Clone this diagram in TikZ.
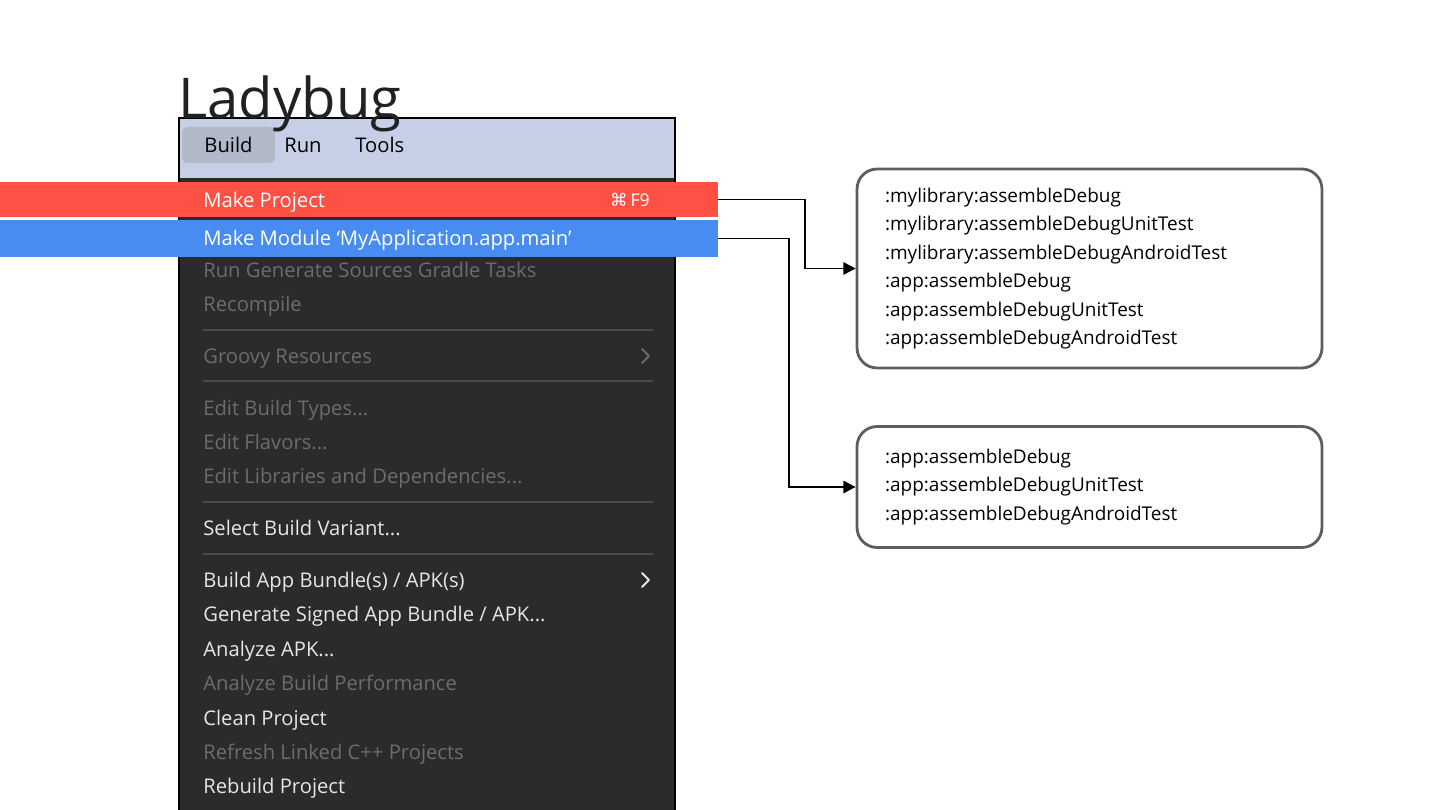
\documentclass[tikz,border=0pt]{standalone}
\usepackage{fontspec}
\setmainfont{Open Sans}
\newfontfamily\keyfont{DejaVu Sans}
\usetikzlibrary{arrows.meta}
\usetikzlibrary{positioning}

\definecolor{makered}{HTML}{FF5045}
\definecolor{moduleblue}{HTML}{498CF1}
\definecolor{menubar}{HTML}{C6CFE5}
\definecolor{menuhl}{HTML}{B1B8C7}
\definecolor{menudark}{HTML}{2B2B2E}
\definecolor{menusep}{HTML}{4B4B4E}
\definecolor{itemoff}{HTML}{6C6C6F}
\definecolor{itemon}{HTML}{E6E6E7}
\definecolor{boxgray}{HTML}{5E5E5E}
\definecolor{titleink}{HTML}{202124}

\tikzset{
	item/.style={anchor=west, inner sep=0pt, text height=8.2pt, text depth=0pt, font=\fontsize{11.5}{14}\selectfont},
	itemoff/.style={item, text=itemoff},
	itemon/.style={item, text=itemon},
	sepline/.style={draw=menusep, line width=1.2pt},
	chevron/.style={line width=1.1pt, line cap=round, line join=round},
	taskbox/.style={draw=boxgray, line width=1.6pt, rounded corners=0.4cm, minimum width=9.3cm,
		text width=8.18cm, inner xsep=0.56cm, align=left, font=\fontsize{10.8}{16.2}\selectfont},
	link/.style={draw, line width=1.1pt, -{Triangle[length=7pt, width=7pt]}}
}

\begin{document}
\begin{tikzpicture}[x=0.02cm, y=-0.02cm]
			\useasboundingbox (0,0) rectangle (1440,810);
			\fill [menubar] (179,118) rectangle (675,178);
			\fill [menudark] (179,178) rectangle (675,810);
			\draw [line width=0.85pt] (179,812) -- (179,118) -- (675,118) -- (675,812);
			\node [fill=menuhl, rounded corners=3pt, minimum width=1.86cm, minimum height=0.72cm,
				text height=8.2pt, text depth=0pt, font=\fontsize{11.5}{14}\selectfont] (build) at (228.5,145) {Build};
			\node [item] (run) at (284,145) {Run};
			\node [item] (tools) at (355,145) {Tools};
			\node [fill=makered, minimum width=14.36cm, minimum height=0.7cm, inner sep=0pt] (mkproj) at (359,199.5) {};
			\node [fill=moduleblue, minimum width=14.36cm, minimum height=0.74cm, inner sep=0pt] (mkmod) at (359,238.5) {};
			\node [item, text=white] (mkprojtext) at (203,200) {Make Project};
			\node [anchor=east, inner sep=0pt, text=white, font=\fontsize{10}{12}\selectfont] (mkkey) at (650,200) {{\keyfont ⌘}\,F9};
			\node [item, text=white] (mkmodtext) at (203,238) {Make Module ‘MyApplication.app.main’};
			\node [itemoff] (gensrc) at (203,270) {Run Generate Sources Gradle Tasks};
			\node [itemoff] (recomp) at (203,304) {Recompile};
			\draw [sepline] (203,330) -- (653,330);
			\node [itemoff] (groovy) at (203,356) {Groovy Resources};
			\draw [chevron, draw=itemoff] (642,349) -- (649,356) -- (642,363);
			\draw [sepline] (203,381) -- (653,381);
			\node [itemoff] (types) at (203,408) {Edit Build Types...};
			\node [itemoff] (flavors) at (203,442) {Edit Flavors...};
			\node [itemoff] (libs) at (203,476) {Edit Libraries and Dependencies...};
			\draw [sepline] (203,502) -- (653,502);
			\node [itemon] (variant) at (203,528) {Select Build Variant...};
			\draw [sepline] (203,554) -- (653,554);
			\node [itemon] (bundle) at (203,580) {Build App Bundle(s) / APK(s)};
			\draw [chevron, draw=itemon] (642,573) -- (649,580) -- (642,587);
			\node [itemon] (signed) at (203,614) {Generate Signed App Bundle / APK...};
			\node [itemon] (analyze) at (203,649) {Analyze APK...};
			\node [itemoff] (perf) at (203,683) {Analyze Build Performance};
			\node [itemon] (clean) at (203,718) {Clean Project};
			\node [itemoff] (refresh) at (203,752) {Refresh Linked C++ Projects};
			\node [itemon] (rebuild) at (203,786) {Rebuild Project};
			\node [anchor=base west, inner sep=0pt, text=titleink, font=\fontsize{32}{36}\selectfont] (title) at (178,119) {Ladybug};
			\node [taskbox, minimum height=3.98cm] (libbox) at (1089.5,268.5) {:mylibrary:assembleDebug\\:mylibrary:assembleDebugUnitTest\\:mylibrary:assembleDebugAndroidTest\\:app:assembleDebug\\:app:assembleDebugUnitTest\\:app:assembleDebugAndroidTest};
			\node [taskbox, minimum height=2.42cm] (appbox) at (1089.5,487) {:app:assembleDebug\\:app:assembleDebugUnitTest\\:app:assembleDebugAndroidTest};
			\draw [link] (mkproj.east) -- ++(87,0) |- (libbox.west);
			\draw [link] (mkmod.east) -- ++(71,0) |- (appbox.west);
	\end{tikzpicture}
\end{document}
